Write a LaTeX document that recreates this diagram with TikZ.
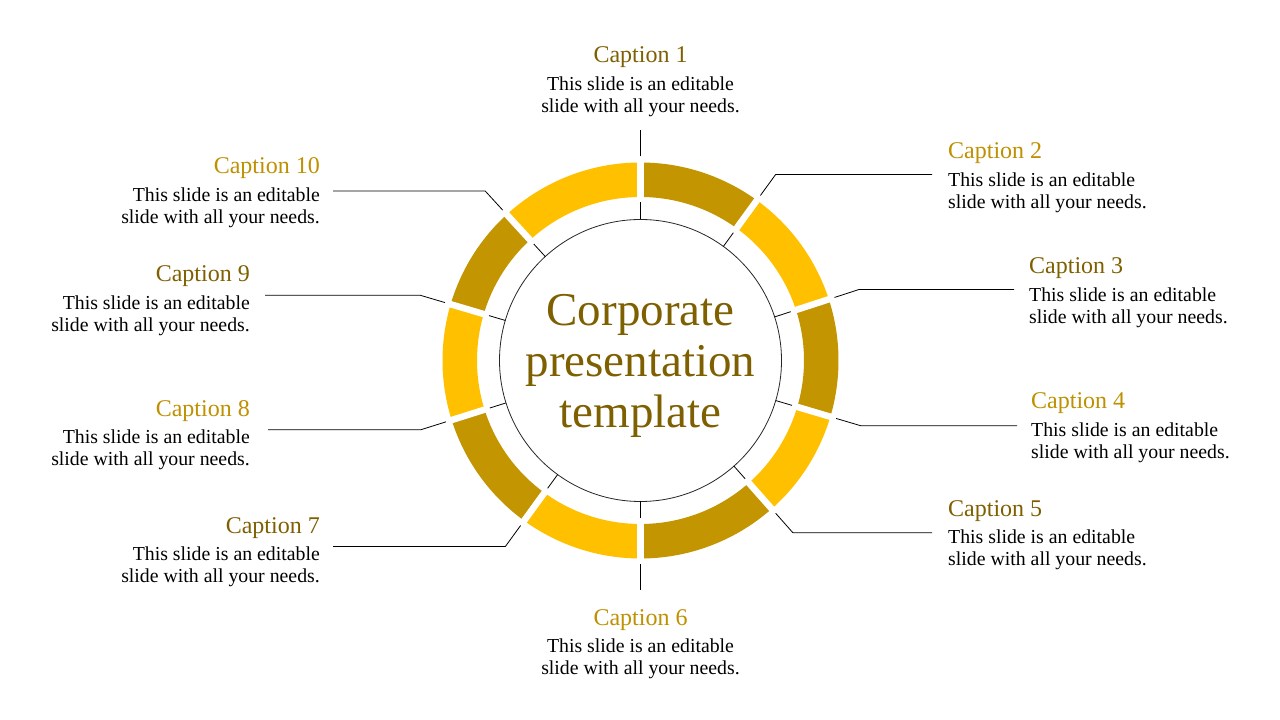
\documentclass[tikz,border=0pt]{standalone}
\usepackage{fontspec}
\setmainfont{Liberation Serif}
\usetikzlibrary{calc}
\definecolor{ringgold}{HTML}{FFC000}
\definecolor{ringdark}{HTML}{C39500}
\definecolor{capdark}{HTML}{7F6000}
\definecolor{capgold}{HTML}{BF9000}
\begin{document}
\begin{tikzpicture}[x=1pt,y=1pt,
  tick/.style={draw=black, line width=0.8pt},
  gapline/.style={draw=white, line width=6.5pt},
  captitle/.style={inner sep=0pt, font=\fontsize{24}{28}\selectfont},
  capbody/.style={inner sep=0pt, text=black, font=\fontsize{19.8}{22}\selectfont},
  bigtitle/.style={inner sep=0pt, align=center, text=capdark, font=\fontsize{47}{51}\selectfont},
  corecircle/.style={circle, draw=black!85, line width=0.8pt, minimum size=282pt, inner sep=0pt}
]
\fill[white] (0,0) rectangle (1280,720);
\useasboundingbox (0,0) rectangle (1280,720);
\coordinate (C) at (640.5,359.5);

% ring segments
\foreach \a/\b/\c in {90/54/ringdark, 54/18/ringgold, 18/-16.5/ringdark, -16.5/-48.5/ringgold, -48.5/-90/ringdark, -90/-126/ringgold, -126/-162.5/ringdark, -162.5/-196.5/ringgold, -196.5/-227.5/ringdark, -227.5/-270/ringgold}
  \fill[\c] ($(C)+(\a:198)$) arc[start angle=\a, end angle=\b, radius=198] -- ($(C)+(\b:163.5)$) arc[start angle=\b, end angle=\a, radius=163.5] -- cycle;

% gaps
\foreach \a in {90,54,18,-16.5,-48.5,-90,-126,-162.5,163.5,132.5}
  \draw[gapline] ($(C)+(\a:158)$) -- ($(C)+(\a:203)$);

% core circle and title
\node[corecircle] (core) at (C) {};
\node[bigtitle, anchor=north] (title) at (640.5,430.7) {\strut Corporate\\presentation\\template};

% tick coordinates
\foreach \k/\a in {1/90,2/54,3/18,4/-16.5,5/-48.5,6/-90,7/-126,8/-162.5,9/163.5,10/132.5} {
  \coordinate (ia\k) at ($(C)+(\a:141)$);
  \coordinate (ib\k) at ($(C)+(\a:158)$);
  \coordinate (oa\k) at ($(C)+(\a:204)$);
  \coordinate (ob\k) at ($(C)+(\a:230)$);
}
\coordinate (le2) at (932,0);
\coordinate (le3) at (1014,0);
\coordinate (le4) at (1017,0);
\coordinate (le5) at (932,0);
\coordinate (le7) at (333,0);
\coordinate (le8) at (268,0);
\coordinate (le9) at (265,0);
\coordinate (le10) at (333,0);

\foreach \k in {1,...,10}
  \draw[tick] (ia\k) -- (ib\k);
\draw[tick] (oa1) -- (ob1);
\draw[tick] (oa6) -- (ob6);
\foreach \k in {2,3,4,5,7,8,9,10}
  \draw[tick] (oa\k) -- (ob\k) -- (ob\k -| le\k);

% captions
\node[captitle, text=capdark, anchor=base] (t1) at (640.5,657) {Caption 1};
\node[capbody, align=center, anchor=north] (b1) at (640.5,645.4) {\strut This slide is an editable\\slide with all your needs.};

\node[captitle, text=capgold, anchor=base west] (t2) at (948,561) {Caption 2};
\node[capbody, align=left, anchor=north west] (b2) at (948,549.4) {\strut This slide is an editable\\slide with all your needs.};

\node[captitle, text=capdark, anchor=base west] (t3) at (1029,446) {Caption 3};
\node[capbody, align=left, anchor=north west] (b3) at (1029,434.4) {\strut This slide is an editable\\slide with all your needs.};

\node[captitle, text=capgold, anchor=base west] (t4) at (1031,311) {Caption 4};
\node[capbody, align=left, anchor=north west] (b4) at (1031,299.4) {\strut This slide is an editable\\slide with all your needs.};

\node[captitle, text=capdark, anchor=base west] (t5) at (948,203) {Caption 5};
\node[capbody, align=left, anchor=north west] (b5) at (948,192.4) {\strut This slide is an editable\\slide with all your needs.};

\node[captitle, text=capgold, anchor=base] (t6) at (640.5,94) {Caption 6};
\node[capbody, align=center, anchor=north] (b6) at (640.5,83.4) {\strut This slide is an editable\\slide with all your needs.};

\node[captitle, text=capdark, anchor=base east] (t7) at (320,186) {Caption 7};
\node[capbody, align=right, anchor=north east] (b7) at (320,175.4) {\strut This slide is an editable\\slide with all your needs.};

\node[captitle, text=capgold, anchor=base east] (t8) at (250,303) {Caption 8};
\node[capbody, align=right, anchor=north east] (b8) at (250,292.4) {\strut This slide is an editable\\slide with all your needs.};

\node[captitle, text=capdark, anchor=base east] (t9) at (250,438) {Caption 9};
\node[capbody, align=right, anchor=north east] (b9) at (250,426.4) {\strut This slide is an editable\\slide with all your needs.};

\node[captitle, text=capgold, anchor=base east] (t10) at (320,546) {Caption 10};
\node[capbody, align=right, anchor=north east] (b10) at (320,534.4) {\strut This slide is an editable\\slide with all your needs.};
\end{tikzpicture}
\end{document}
